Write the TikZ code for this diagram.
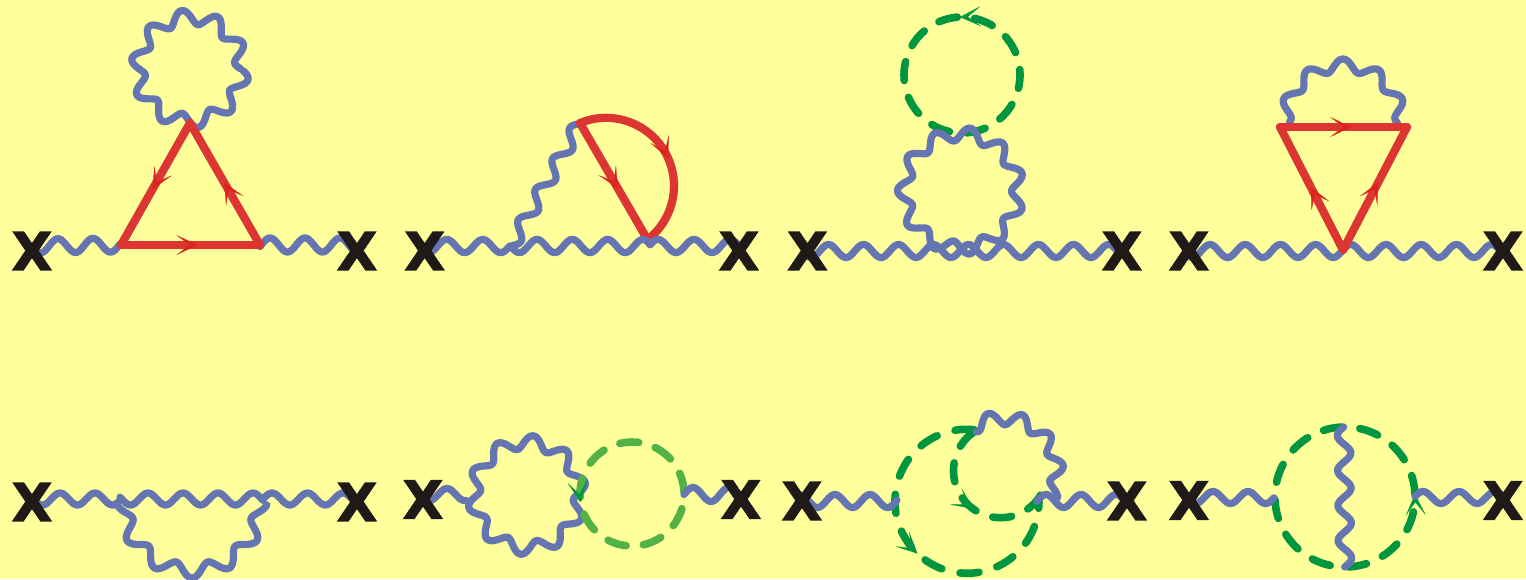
\documentclass[tikz,border=0pt]{standalone}
\usepackage{fontspec}
\usetikzlibrary{decorations.markings,arrows.meta}
\newfontfamily\xfam[BoldFeatures={FakeBold=2.5}]{DejaVu Sans}
\definecolor{bgy}{RGB}{255,255,156}
\definecolor{wblue}{RGB}{101,117,178}
\definecolor{fred}{RGB}{221,54,50}
\definecolor{hred}{RGB}{217,35,28}
\definecolor{dgreen}{RGB}{0,150,63}
\definecolor{lgreen}{RGB}{83,178,69}
\definecolor{xblack}{RGB}{31,26,23}
\pgfdeclarelayer{front}
\pgfsetlayers{main,front}
\pgfdeclaredecoration{cosw}{first}{
  \state{first}[width=1pt,next state=rest]{
    \pgfmathsetlengthmacro\wy{\wA*cos(360*((\pgfdecoratedcompleteddistance-\wC)/\wP))}
    \pgfpathmoveto{\pgfqpoint{0pt}{\wy}}}
  \state{rest}[width=1pt]{
    \pgfmathsetlengthmacro\wy{\wA*cos(360*((\pgfdecoratedcompleteddistance-\wC)/\wP))}
    \pgfpathlineto{\pgfqpoint{0pt}{\wy}}}
  \state{final}{}
}
\tikzset{
  bw/.style={draw=wblue,line width=7.2pt,line cap=round,line join=round,decorate,decoration={cosw}},
  wpar/.code n args={3}{\def\wP{#1}\def\wA{#2}\def\wC{#3}},
  wring/.code n args={4}{\pgfmathsetmacro\wP{2*pi*#1/#2}\pgfmathsetmacro\wC{#1*pi/180*(#3)}\pgfmathsetmacro\wA{-(#4)}},
  fer/.style={draw=fred,line width=8.2pt,line cap=round,line join=round},
  dashline/.style={line width=7.6pt,line cap=round},
  dring/.code n args={4}{\pgfmathsetmacro\dP{2*pi*#1/#2}\pgfmathsetmacro\dO{\dP-#4}%
    \pgfmathsetmacro\dPh{mod(mod(#4/2-#1*pi/180*(#3),\dP)+\dP,\dP)}%
    \tikzset{dash pattern=on #4pt off \dO pt,dash phase=\dPh pt}},
  tipm/.style 2 args={postaction={decorate,decoration={markings,mark=at position #1 with {\arrow{Stealth[length=21pt,width=20pt,inset=13pt,line width=0.2pt,color=#2]}}}}},
  xm/.style={inner sep=0pt,text=xblack,font={\xfam\bfseries\fontsize{52}{52}\selectfont}}
}
\begin{document}
\begin{tikzpicture}[x=1pt,y=-1pt]
\useasboundingbox (0,0) rectangle (1526,579);
\fill[bgy] (0,0) rectangle (1526,579);
\begin{pgfonlayer}{front}
\node[xm] (x1l) at (32,251) {X}; \node[xm] (x1r) at (357,251) {X};
\node[xm] (x2l) at (424.7,251) {X}; \node[xm] (x2r) at (739,251) {X};
\node[xm] (x3l) at (807.5,251) {X}; \node[xm] (x3r) at (1122,251) {X};
\node[xm] (x4l) at (1189,251) {X}; \node[xm] (x4r) at (1503,251) {X};
\node[xm] (x5l) at (32,502) {X}; \node[xm] (x5r) at (357,502) {X};
\node[xm] (x6l) at (423,499.5) {X}; \node[xm] (x6r) at (741,499.5) {X};
\node[xm] (x7l) at (802,501) {X}; \node[xm] (x7r) at (1127,501) {X};
\node[xm] (x8l) at (1189,500.5) {X}; \node[xm] (x8r) at (1503,500.5) {X};
\end{pgfonlayer}
% --- diagram 1
\coordinate (a1) at (190,123); \coordinate (a2) at (121,245); \coordinate (a3) at (260,245); \coordinate (ac) at (190,69);
\draw[bw,wring={52}{10}{98}{7}] (ac) circle[radius=52pt];
\draw[bw,wpar={35}{7}{26}] ([yshift=5pt]x1l.center) -- (a2);
\draw[bw,wpar={35}{7}{10}] (a3) -- ([yshift=6pt]x1r.center);
\draw[fer,tipm={.54}{hred}] (a1) -- (a2);
\draw[fer,tipm={.55}{hred}] (a2) -- (a3);
\draw[fer,tipm={.51}{hred}] (a3) -- (a1);
% --- diagram 2
\coordinate (b1) at (580,123); \coordinate (b2) at (650,244); \coordinate (b3) at (511,246);
\draw[bw,wpar={35}{6.5}{27}] (b1) -- (b3);
\draw[fer,tipm={.54}{hred}] (b1) -- (b2);
\draw[fer,tipm={.535}{hred}] (b1) arc[start angle=112.5,end angle=-53,radius=68pt];
\draw[bw,wpar={36}{6.6}{22}] ([yshift=5pt]x2l.center) -- (b3);
\draw[bw,wpar={35.3}{6.6}{26}] (b3) -- (650,246);
\draw[bw,wpar={36}{6.6}{8}] (650,246) -- ([yshift=5pt]x2r.center);
% --- diagram 3
\coordinate (c1) at (962,75); \coordinate (c2) at (961,191);
\draw[dgreen,dashline,dring={58}{10}{68}{19},tipm={.256}{dgreen}] (c1) circle[radius=58pt];
\draw[bw,wring={57}{11}{81.5}{6.5}] (c2) circle[radius=57pt];
\draw[bw,wpar={35}{6.5}{21}] (x3l.center) -- (x3r.center);
% --- diagram 4
\coordinate (d1) at (1280,127); \coordinate (d2) at (1407,127); \coordinate (d3) at (1343,250); \coordinate (d4) at (1401,123);
\draw[bw,wring={58}{10.6}{90}{6}] (d4) arc[start angle=0,end angle=180,radius=58pt];
\draw[bw,wpar={35.2}{6.5}{21}] (x4l.center) -- (x4r.center);
\draw[fer,tipm={.56}{hred}] (d1) -- (d2);
\draw[fer,tipm={.51}{hred}] (d3) -- (d1);
\draw[fer,tipm={.55}{hred}] (d3) -- (d2);
% --- diagram 5
\coordinate (e1) at (120,499); \coordinate (e2) at (264,499); \coordinate (e3) at (124,503);
\draw[bw,wring={68}{12}{90}{7}] (e3) arc[start angle=180,end angle=360,radius=68pt];
\draw[bw,wpar={35}{6}{28}] ([yshift=3pt]x5l.center) -- (e1);
\draw[bw,wpar={35}{6}{28}] (e1) -- (e2);
\draw[bw,wpar={35.5}{6}{8}] (e2) -- ([yshift=3pt]x5r.center);
% --- diagram 6
\coordinate (f1) at (527,495); \coordinate (f2) at (632,494); \coordinate (f3) at (467,494.5); \coordinate (f4) at (684,494.5);
\draw[bw,wring={53}{10}{84}{6.5}] (f1) circle[radius=53pt];
\draw[bw,wpar={35}{6}{24}] ([yshift=5pt]x6l.center) -- (f3);
\draw[lgreen,dashline,dring={52}{9}{93}{19},tipm={.525}{dgreen}] (f2) circle[radius=52pt];
\draw[bw,wpar={36}{7}{9}] (f4) -- ([yshift=5pt]x6r.center);
% --- diagram 7
\coordinate (g1) at (977,430); \coordinate (g2) at (1052,495); \coordinate (g3) at (898,501); \coordinate (g4) at (1037,501);
\draw[dgreen,dashline,dring={72}{12}{10}{19},tipm={.52}{dgreen}] (g1) arc[start angle=82,delta angle=278,radius=72pt];
\draw[dgreen,dashline,dring={47}{8}{17}{19},tipm={.543}{dgreen}] (g1) arc[start angle=120,delta angle=210,radius=47pt];
\draw[bw,wring={54}{11}{31}{6.5}] (g2) arc[start angle=-25,delta angle=150,radius=54pt];
\draw[bw,wpar={35}{6.5}{33}] (x7l.center) -- (g3);
\draw[bw,wpar={35}{6.5}{9}] (g4) -- (x7r.center);
% --- diagram 8
\coordinate (h1) at (1345,497); \coordinate (h2) at (1344,427); \coordinate (h3) at (1345,568); \coordinate (h4) at (1275,497.5); \coordinate (h5) at (1415,497.5);
\draw[dgreen,dashline,dring={70}{12}{100}{19},tipm={.006}{dgreen}] (h1) circle[radius=70pt];
\draw[bw,wpar={35}{6.7}{26}] (h2) -- (h3);
\draw[bw,wpar={35}{6}{24}] ([yshift=3pt]x8l.center) -- (h4);
\draw[bw,wpar={36}{6}{8}] (h5) -- ([yshift=3pt]x8r.center);
\end{tikzpicture}
\end{document}
